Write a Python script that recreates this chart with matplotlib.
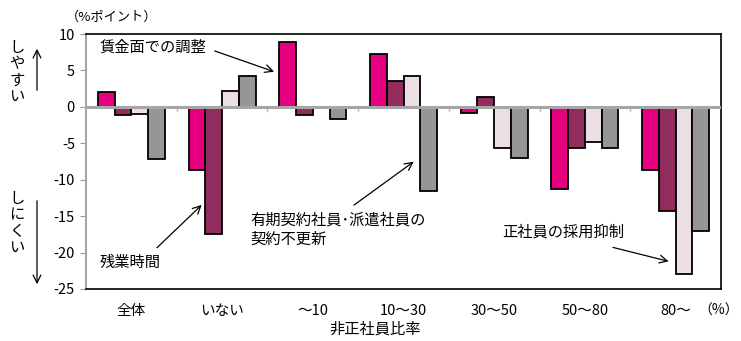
import matplotlib
matplotlib.use("Agg")
import matplotlib.pyplot as plt
import numpy as np

plt.rcParams['font.family'] = ['Noto Sans CJK JP', 'DejaVu Sans']

categories = ['全体', 'いない', '〜10', '10〜30', '30〜50', '50〜80', '80〜']
wage = [2.1, -8.7, 8.9, 7.3, -0.8, -11.3, -8.7]          # 賃金面での調整
overtime = [-1.15, -17.5, -1.15, 3.6, 1.4, -5.6, -14.3]  # 残業時間
hiring = [-1.0, 2.2, 0.0, 4.3, -5.6, -4.8, -22.9]        # 正社員の採用抑制
contract = [-7.2, 4.3, -1.7, -11.6, -7.0, -5.7, -17.0]   # 有期契約社員・派遣社員の契約不更新
yticks = [10, 5, 0, -5, -10, -15, -20, -25]

series = [wage, overtime, hiring, contract]
colors = ['#e4007f', '#932c5e', '#ebdfe5', '#969696']

W, H = 741, 341
fig = plt.figure(figsize=(W / 100, H / 100), dpi=100)
ax = fig.add_axes([86 / W, 1 - 289 / H, (721 - 86) / W, (289 - 34) / H])

x = np.arange(len(categories))
bw = 0.185
for k, (vals, c) in enumerate(zip(series, colors)):
    ax.bar(x + (k - 1.5) * bw, vals, bw, color=c, edgecolor='black',
           linewidth=1.3, zorder=3)

ax.set_xlim(-0.5, len(categories) - 0.5)
ax.set_ylim(-25, 10)
ax.set_yticks(yticks)
ax.set_yticklabels([str(v) for v in yticks], fontsize=10.5)
ax.set_xticks(x)
ax.set_xticklabels(categories, fontsize=10.5)
ax.tick_params(axis='x', length=0, pad=11)
ax.tick_params(axis='y', length=4, color='#999999', pad=4)

ax.axhline(0, color='#a6a6a6', lw=2.2, zorder=4)
# small ticks at group boundaries along the zero line
for b in x[:-1] + 0.5:
    ax.plot([b, b], [0, -0.6], color='#bbbbbb', lw=1, zorder=2)

for s in ['top', 'right', 'bottom']:
    ax.spines[s].set_color('black')
    ax.spines[s].set_linewidth(1.2)
ax.spines['left'].set_color('#a6a6a6')
ax.spines['left'].set_linewidth(1.5)

arrow = dict(arrowstyle='->', color='black', lw=0.9, mutation_scale=14)
fs = 11

# 賃金面での調整
ax.text(-0.35, 8.2, '賃金面での調整', fontsize=fs, va='center', ha='left', zorder=5)
ax.annotate('', xy=(x[2] - 1.5 * bw - 0.12, wage[2] - 4.2), xytext=(0.89, 7.8),
            arrowprops=arrow, zorder=5)
# 残業時間
ax.text(-0.35, -21.3, '残業時間', fontsize=fs, va='center', ha='left', zorder=5)
ax.annotate('', xy=(x[1] - 0.5 * bw - 0.11, overtime[1] + 4.3), xytext=(0.26, -19.6),
            arrowprops=arrow, zorder=5)
# 有期契約社員・派遣社員の契約不更新
ax.text(1.31, -15.6, '有期契約社員･派遣社員の', fontsize=fs, va='center', ha='left', zorder=5)
ax.text(1.31, -18.2, '契約不更新', fontsize=fs, va='center', ha='left', zorder=5)
ax.annotate('', xy=(x[3] + 1.5 * bw - 0.14, contract[3] + 4.3), xytext=(2.43, -13.7),
            arrowprops=arrow, zorder=5)
# 正社員の採用抑制
ax.text(4.09, -17.2, '正社員の採用抑制', fontsize=fs, va='center', ha='left', zorder=5)
ax.annotate('', xy=(x[6] + 0.5 * bw - 0.14, hiring[6] + 1.6), xytext=(5.28, -19.2),
            arrowprops=arrow, zorder=5)

def px(xp, yp):
    return xp / W, 1 - yp / H

fig.text(*px(112, 17), '（%ポイント）', fontsize=9.5, ha='center', va='center')
fig.text(*px(739, 311), '（%）', fontsize=10, ha='right', va='center')
fig.text(*px(375, 329), '非正社員比率', fontsize=fs, ha='center', va='center')

fig.text(*px(17, 72), '\n'.join('しやすい'), fontsize=fs, linespacing=0.95,
         ha='center', va='center')
fig.text(*px(17, 223), '\n'.join('しにくい'), fontsize=fs, linespacing=0.95,
         ha='center', va='center')
fig.patches.append(matplotlib.patches.FancyArrowPatch(
    px(37, 93), px(37, 46), transform=fig.transFigure, arrowstyle='->',
    mutation_scale=14, lw=0.9, color='black'))
fig.patches.append(matplotlib.patches.FancyArrowPatch(
    px(37, 198), px(37, 287), transform=fig.transFigure, arrowstyle='->',
    mutation_scale=14, lw=0.9, color='black'))

fig.savefig('out.png', dpi=100)
